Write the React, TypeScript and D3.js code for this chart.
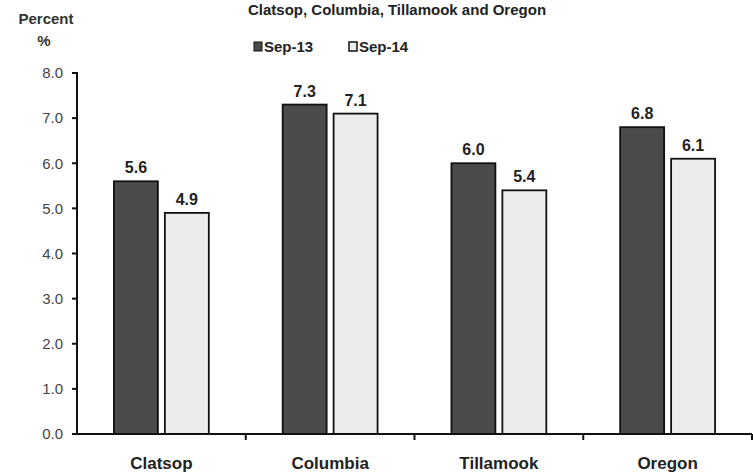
import { useEffect } from "react";
import * as d3 from "d3";

const CATEGORIES = ["Clatsop", "Columbia", "Tillamook", "Oregon"];
const SERIES = ["Sep-13", "Sep-14"];
const SEP13 = [5.6, 7.3, 6.0, 6.8];
const SEP14 = [4.9, 7.1, 5.4, 6.1];
const Y_TICKS = [0, 1, 2, 3, 4, 5, 6, 7, 8];

const WIDTH = 753;
const HEIGHT = 473;
const FONT = "'Liberation Sans', Arial, sans-serif";
const FILLS = ["#4b4b4b", "#ececec"];

export default function App() {
  useEffect(() => {
    document.body.style.margin = "0";
  }, []);

  const x0 = d3.scaleBand<string>().domain(CATEGORIES).range([77, 752]).padding(0);
  const x1 = d3
    .scaleBand<string>()
    .domain(SERIES)
    .range([0, x0.bandwidth()])
    .paddingInner(0.137)
    .paddingOuter(0.725);
  const y = d3.scaleLinear().domain([0, 8]).range([434, 73]);

  const values = [SEP13, SEP14];

  return (
    <svg width={WIDTH} height={HEIGHT} style={{ position: "absolute", left: 0, top: 0, background: "#fff" }}>
      {/* title, mostly cut off at top of the scan */}
      <text x={397} y={15} textAnchor="middle" fontFamily={FONT} fontWeight="bold" fontSize={15} fill="#222">
        Clatsop, Columbia, Tillamook and Oregon
      </text>

      <text x={46} y={24} textAnchor="middle" fontFamily={FONT} fontWeight="bold" fontSize={15} fill="#333">
        Percent
      </text>
      <text x={44} y={46} textAnchor="middle" fontFamily={FONT} fontWeight="bold" fontSize={15} fill="#333">
        %
      </text>

      {/* legend */}
      <g fontFamily={FONT} fontWeight="bold" fontSize={15} fill="#222">
        <rect x={254} y={42} width={8} height={9} fill={FILLS[0]} stroke="#111" />
        <text x={264} y={52}>{SERIES[0]}</text>
        <rect x={349} y={42} width={8} height={9} fill={FILLS[1]} stroke="#111" strokeWidth={1.5} />
        <text x={359} y={52}>{SERIES[1]}</text>
      </g>

      {/* bars */}
      {CATEGORIES.map((c, i) => (
        <g key={c} transform={`translate(${x0(c)},0)`}>
          {SERIES.map((s, j) => {
            const v = values[j][i];
            const bx = x1(s) ?? 0;
            return (
              <g key={s}>
                <rect
                  x={bx}
                  y={y(v)}
                  width={x1.bandwidth()}
                  height={y(0) - y(v)}
                  fill={FILLS[j]}
                  stroke="#111"
                  strokeWidth={1.8}
                />
                <text
                  x={bx + x1.bandwidth() / 2}
                  y={y(v) - 8}
                  textAnchor="middle"
                  fontFamily={FONT}
                  fontWeight="bold"
                  fontSize={16}
                  fill="#222"
                >
                  {d3.format(".1f")(v)}
                </text>
              </g>
            );
          })}
        </g>
      ))}

      {/* y axis */}
      <line x1={77} x2={77} y1={y(8) - 1} y2={y(0)} stroke="#111" strokeWidth={2} />
      {Y_TICKS.map((t) => (
        <g key={t}>
          <line x1={72} x2={77} y1={y(t)} y2={y(t)} stroke="#111" strokeWidth={2} />
          <text
            x={63}
            y={y(t)}
            dy="0.35em"
            textAnchor="end"
            fontFamily={FONT}
            fontSize={15}
            fill="#444"
          >
            {d3.format(".1f")(t)}
          </text>
        </g>
      ))}

      {/* x axis */}
      <line x1={77} x2={752} y1={y(0)} y2={y(0)} stroke="#111" strokeWidth={2} />
      {CATEGORIES.map((c) => (
        <g key={c}>
          <line
            x1={(x0(c) ?? 0) + x0.bandwidth()}
            x2={(x0(c) ?? 0) + x0.bandwidth()}
            y1={y(0)}
            y2={y(0) + 6}
            stroke="#111"
            strokeWidth={2}
          />
          <text
            x={(x0(c) ?? 0) + x0.bandwidth() / 2}
            y={469}
            textAnchor="middle"
            fontFamily={FONT}
            fontWeight="bold"
            fontSize={17}
            fill="#222"
          >
            {c}
          </text>
        </g>
      ))}
    </svg>
  );
}
